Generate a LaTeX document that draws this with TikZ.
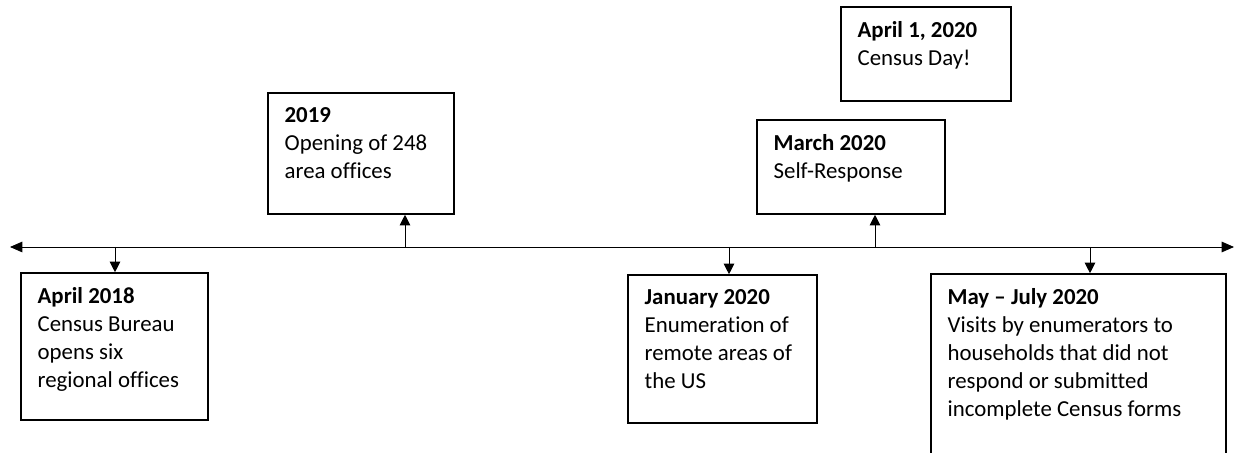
\documentclass[tikz,border=0pt]{standalone}
\usepackage{fontspec}
\setmainfont{Carlito}[Ligatures=NoCommon]
\usetikzlibrary{arrows.meta, fit}

\begin{document}
\begin{tikzpicture}[x=0.2mm, y=-0.2mm, line width=0.5pt,
	box/.style = {draw, line width=0.9pt, inner sep=0pt},
	txt/.style = {anchor=north west, align=left, inner sep=0pt, font=\fontsize{13pt}{15.9pt}\selectfont, execute at begin node={\strut}},
	tip/.style = {-{Triangle[length=6pt, width=6pt]}}]

			\clip (0,0) rectangle (1235,453);

			% timeline
			\coordinate (L) at (10,247);
			\coordinate (R) at (1234,247);
			\draw[{Triangle[length=7pt, width=6pt]}-{Triangle[length=7pt, width=6pt]}] (L) -- (R);

			\coordinate (t18) at (115,247);
			\coordinate (t19) at (405,247);
			\coordinate (tjan) at (729,247);
			\coordinate (tmar) at (875,247);
			\coordinate (tmay) at (1090,247);

			% boxes
			\node[box, fit={(21,273) (208,420)}] (apr18) {};
			\node[box, fit={(268,93) (454,214)}] (y19) {};
			\node[box, fit={(628,275) (817,423)}] (jan20) {};
			\node[box, fit={(757,120) (945,214)}] (mar20) {};
			\node[box, fit={(841,7) (1011,101)}] (apr20) {};
			\node[box, fit={(931,274) (1226,480)}] (may20) {};

			\node[txt] (apr18t) at ([shift={(17,15)}]apr18.north west) {\textbf{April 2018}\\Census Bureau\\opens six\\regional offices};
			\node[txt] (y19t) at ([shift={(17,15)}]y19.north west) {\textbf{2019}\\Opening of 248\\area offices};
			\node[txt] (jan20t) at ([shift={(17,15)}]jan20.north west) {\textbf{January 2020}\\Enumeration of\\remote areas of\\the US};
			\node[txt] (mar20t) at ([shift={(17,15)}]mar20.north west) {\textbf{March 2020}\\Self-Response};
			\node[txt] (apr20t) at ([shift={(17,15)}]apr20.north west) {\textbf{April 1, 2020}\\Census Day!};
			\node[txt] (may20t) at ([shift={(17,15)}]may20.north west) {\textbf{May -- July 2020}\\Visits by enumerators to\\households that did not\\respond or submitted\\incomplete Census forms};

			% stems
			\draw[tip] (t18) -- (t18 |- apr18.north);
			\draw[tip] (t19) -- (t19 |- y19.south);
			\draw[tip] (tjan) -- (tjan |- jan20.north);
			\draw[tip] (tmar) -- (tmar |- mar20.south);
			\draw[tip] (tmay) -- (tmay |- may20.north);
		\end{tikzpicture}
\end{document}
